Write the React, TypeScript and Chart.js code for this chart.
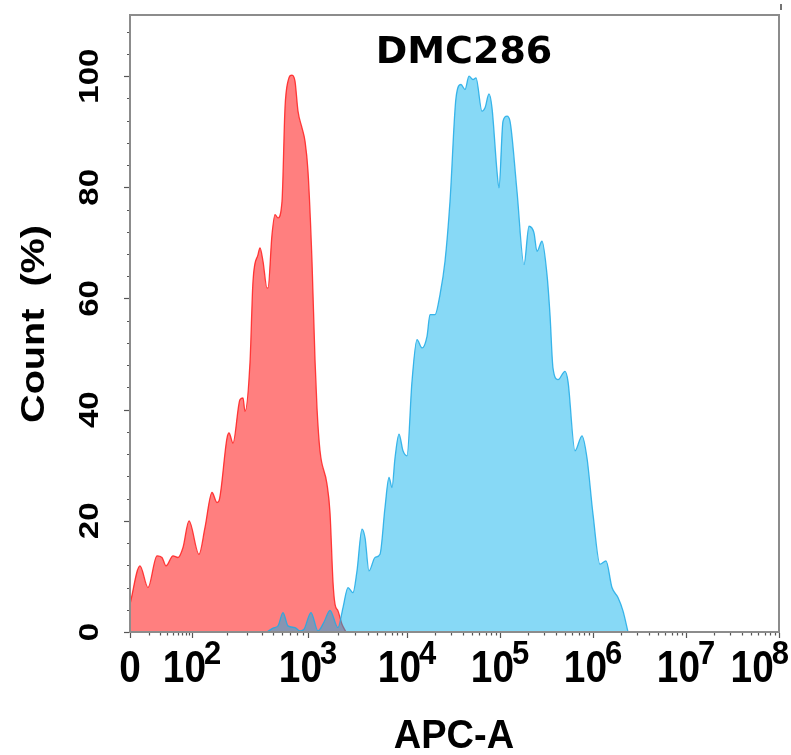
import React, { useEffect, useRef } from 'react';
import { Chart, registerables } from 'chart.js';

Chart.register(...registerables);

const TITLE = 'DMC286';
const X_TITLE = 'APC-A';
const Y_TITLE = 'Count  (%)';

// x axis is in display channels (biexponential display)
const X_MIN = 0;
const X_MAX = 649;
const X_TICK_POS = [0, 62, 178, 277, 370, 463, 556, 649];
const X_TICK_BASE = ['0', '10', '10', '10', '10', '10', '10', '10'];
const X_TICK_EXP = ['', '2', '3', '4', '5', '6', '7', '8'];

const Y_MIN = 0;
const Y_MAX = 111;
const Y_TICKS = [0, 20, 40, 60, 80, 100];
const Y_MINOR_STEP = 4;

// unstained / control histogram (red)
const RED_X = [0, 10, 18, 27, 32, 36, 43, 48, 53, 59, 69, 75, 82, 87, 89, 97, 99, 103, 110, 113, 115, 120, 123, 128, 130, 133, 137, 138, 142, 145, 148, 152, 155, 158, 162, 165, 168, 172, 175, 178, 182, 185, 187, 190, 197, 200, 203, 205, 208, 212, 216];
const RED_Y = [5.0, 11.9, 8.0, 13.7, 13.4, 11.9, 13.7, 13.4, 15.2, 20.0, 14.0, 18.8, 25.1, 23.3, 23.6, 34.9, 35.8, 34.0, 41.8, 42.1, 39.7, 48.5, 63.1, 67.9, 69.1, 66.7, 61.9, 61.9, 71.5, 75.1, 74.5, 77.5, 94.3, 99.1, 100.2, 99.1, 93.7, 90.7, 88.3, 82.9, 66.7, 49.0, 40.3, 32.6, 26.6, 21.5, 9.0, 5.0, 3.8, 1.4, 0];

// DMC286 stained histogram (blue)
const BLUE_X = [137, 143, 148, 153, 158, 165, 170, 174, 181, 188, 194, 200, 208, 213, 218, 223, 227, 232, 235, 239, 245, 250, 255, 259, 262, 265, 269, 273, 277, 282, 287, 292, 297, 300, 305, 310, 315, 320, 326, 331, 335, 339, 343, 346, 352, 355, 359, 362, 367, 369, 373, 377, 380, 387, 394, 399, 404, 407, 412, 417, 420, 423, 428, 435, 438, 445, 452, 457, 463, 470, 476, 482, 488, 493, 498];
const BLUE_Y = [0, 0.7, 1.1, 3.5, 1.1, 0.8, 0.2, 0.5, 3.5, 0.2, 1.8, 3.9, 0.8, 4.4, 8.0, 7.1, 11.0, 18.5, 17.0, 11.0, 13.4, 14.0, 22.4, 27.8, 26.0, 31.3, 35.6, 32.6, 31.7, 45.1, 52.6, 51.1, 53.2, 57.1, 57.1, 60.7, 66.7, 77.5, 96.1, 98.5, 97.6, 100.0, 99.4, 99.7, 93.7, 94.3, 96.8, 94.3, 82.9, 79.9, 91.9, 92.8, 91.9, 79.3, 66.1, 73.0, 71.8, 68.5, 70.3, 64.3, 57.1, 47.5, 45.4, 46.9, 45.1, 32.6, 35.3, 31.3, 21.2, 12.2, 12.8, 8.0, 6.2, 3.8, 0];

const FONT = '"Liberation Sans", Arial, sans-serif';

function drawStretched(ctx: CanvasRenderingContext2D, text: string, x: number, y: number, font: string, sx: number, sy: number, align: CanvasTextAlign, rotate = 0) {
  ctx.save();
  ctx.translate(x, y);
  if (rotate) ctx.rotate(rotate);
  ctx.scale(sx, sy);
  ctx.font = font;
  ctx.textAlign = align;
  ctx.textBaseline = 'alphabetic';
  ctx.fillText(text, 0, 0);
  ctx.restore();
}

const decorPlugin = {
  id: 'decor',
  afterDraw(chart: any) {
    const { ctx, chartArea } = chart;
    const { left, right, top, bottom } = chartArea;
    const xs = chart.scales.x;
    const ys = chart.scales.y;
    ctx.save();

    // frame
    ctx.strokeStyle = '#8c8c8c';
    ctx.lineWidth = 2;
    ctx.strokeRect(left, top, right - left, bottom - top);

    // small mark above top-right corner
    ctx.strokeStyle = '#444';
    ctx.lineWidth = 1.5;
    ctx.beginPath();
    ctx.moveTo(right + 2, top - 11);
    ctx.lineTo(right + 2, top - 5);
    ctx.stroke();

    // y ticks
    ctx.strokeStyle = '#555';
    ctx.lineWidth = 1.2;
    for (let v = Y_MIN; v <= Y_MAX; v += Y_MINOR_STEP) {
      const py = Math.round(ys.getPixelForValue(v)) + 0.5;
      const len = v % 20 === 0 ? 6 : 3;
      ctx.beginPath();
      ctx.moveTo(left - len, py);
      ctx.lineTo(left - 1, py);
      ctx.stroke();
    }

    // x ticks (major + log minors)
    for (let i = 0; i < X_TICK_POS.length; i++) {
      const px = Math.round(xs.getPixelForValue(X_TICK_POS[i])) + 0.5;
      ctx.beginPath();
      ctx.moveTo(px, bottom + 1);
      ctx.lineTo(px, bottom + 6);
      ctx.stroke();
      if (i < X_TICK_POS.length - 1) {
        const a = X_TICK_POS[i];
        const b = X_TICK_POS[i + 1];
        for (let k = 2; k <= 9; k++) {
          const v = a + Math.log10(k) * (b - a);
          const mx = Math.round(xs.getPixelForValue(v)) + 0.5;
          ctx.beginPath();
          ctx.moveTo(mx, bottom + 1);
          ctx.lineTo(mx, bottom + 3.5);
          ctx.stroke();
        }
      }
    }

    ctx.fillStyle = '#000';

    // y tick labels (rotated)
    for (const v of Y_TICKS) {
      const py = ys.getPixelForValue(v);
      drawStretched(ctx, String(v), 98, py, `bold 28px ${FONT}`, 1.18, 1.0, 'center', -Math.PI / 2);
    }

    // x tick labels with superscripts
    const baseFont = `bold 40px ${FONT}`;
    const expFont = `bold 31px ${FONT}`;
    const sxBase = 0.97;
    for (let i = 0; i < X_TICK_POS.length; i++) {
      const px = xs.getPixelForValue(X_TICK_POS[i]);
      ctx.font = baseFont;
      const w1 = ctx.measureText(X_TICK_BASE[i]).width * sxBase;
      ctx.font = expFont;
      const w2 = X_TICK_EXP[i] ? ctx.measureText(X_TICK_EXP[i]).width : 0;
      const gap = X_TICK_EXP[i] ? -2 : 0;
      const total = w1 + w2 + gap;
      let start = px - total / 2;
      if (start + total > 789) start = 789 - total;
      if (start < 118) start = 118;
      drawStretched(ctx, X_TICK_BASE[i], start, 682, baseFont, sxBase, 1.1, 'left');
      if (X_TICK_EXP[i]) drawStretched(ctx, X_TICK_EXP[i], start + w1 + gap, 664, expFont, 1, 1.05, 'left');
    }

    // axis titles
    drawStretched(ctx, X_TITLE, 454, 748, `bold 38px ${FONT}`, 1, 1.05, 'center');
    drawStretched(ctx, Y_TITLE, 44, 324, `bold 33px ${FONT}`, 1.2, 1, 'center', -Math.PI / 2);

    // chart title inside plot
    drawStretched(ctx, TITLE, 464, 63, `bold 38px "DejaVu Sans", sans-serif`, 1, 1, 'center');

    ctx.restore();
  },
};

export default function App() {
  const ref = useRef<HTMLCanvasElement>(null);
  useEffect(() => {
    document.body.style.margin = '0';
    const canvas = ref.current!;
    const chart = new Chart(canvas, {
      type: 'line',
      data: {
        datasets: [
          {
            label: 'DMC286',
            data: BLUE_X.map((x, i) => ({ x, y: BLUE_Y[i] })),
            borderColor: 'rgba(30,170,230,0.85)',
            backgroundColor: 'rgba(0,175,235,0.47)',
            borderWidth: 1.3,
            fill: 'origin',
            pointRadius: 0,
            cubicInterpolationMode: 'monotone',
          },
          {
            label: 'Control',
            data: RED_X.map((x, i) => ({ x, y: RED_Y[i] })),
            borderColor: 'rgba(255,30,30,0.85)',
            backgroundColor: 'rgba(255,0,0,0.5)',
            borderWidth: 1.3,
            fill: 'origin',
            pointRadius: 0,
            cubicInterpolationMode: 'monotone',
          },
        ],
      },
      options: {
        animation: false,
        responsive: false,
        devicePixelRatio: 1,
        layout: { padding: { top: 15, right: 12, left: 0, bottom: 0 } },
        plugins: {
          legend: { display: false },
          tooltip: { enabled: false },
          title: { display: false },
        },
        scales: {
          x: {
            type: 'linear',
            min: X_MIN,
            max: X_MAX,
            ticks: { display: false },
            grid: { display: false },
            border: { display: false },
            afterFit: (s: any) => { s.height = 123; },
          },
          y: {
            type: 'linear',
            min: Y_MIN,
            max: Y_MAX,
            ticks: { display: false },
            grid: { display: false },
            border: { display: false },
            afterFit: (s: any) => { s.width = 130; },
          },
        },
      },
      plugins: [decorPlugin],
    } as any);
    return () => chart.destroy();
  }, []);
  return (
    <div style={{ width: 791, height: 755 }}>
      <canvas ref={ref} width={791} height={755} style={{ display: 'block' }} />
    </div>
  );
}
